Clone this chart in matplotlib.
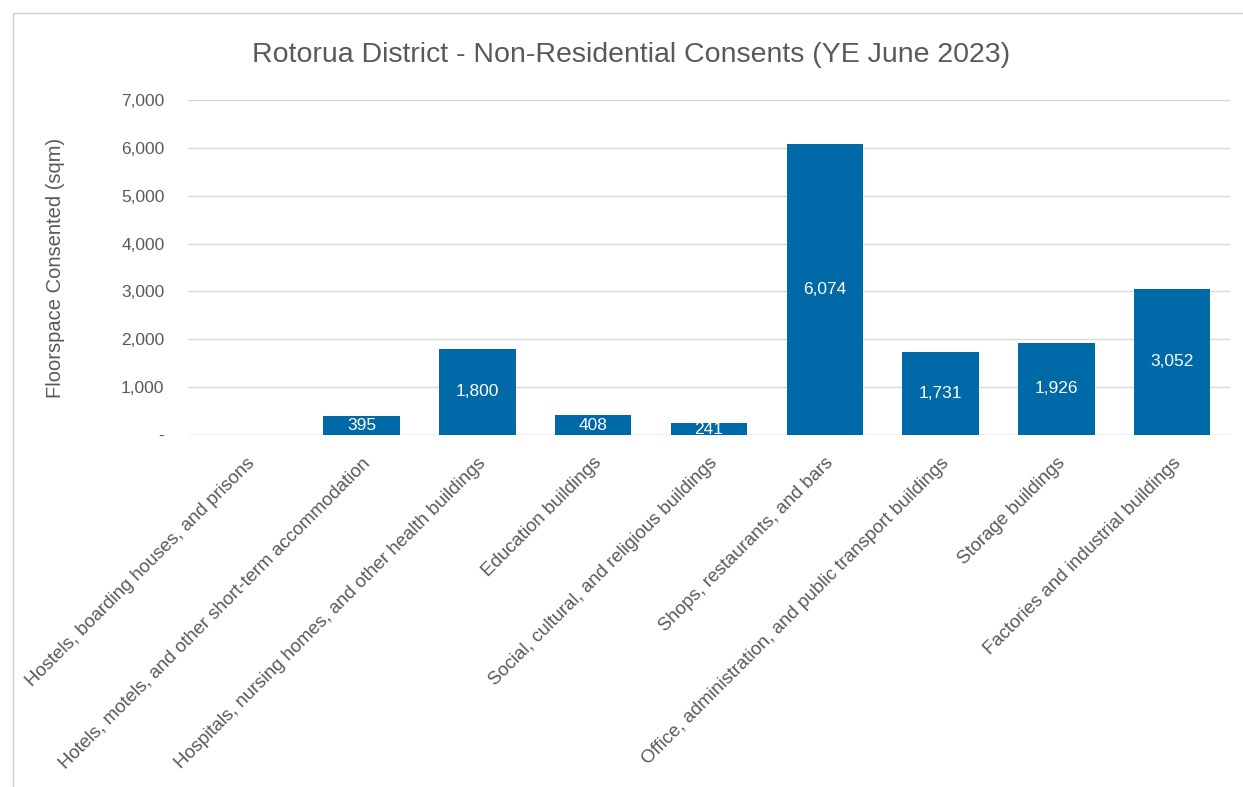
import matplotlib
matplotlib.use("Agg")
import matplotlib.pyplot as plt
from matplotlib.patches import Rectangle
from matplotlib.ticker import FuncFormatter

categories = [
    "Hostels, boarding houses, and prisons",
    "Hotels, motels, and other short-term accommodation",
    "Hospitals, nursing homes, and other health buildings",
    "Education buildings",
    "Social, cultural, and religious buildings",
    "Shops, restaurants, and bars",
    "Office, administration, and public transport buildings",
    "Storage buildings",
    "Factories and industrial buildings",
]
floorspace = [0, 395, 1800, 408, 241, 6074, 1731, 1926, 3052]
y_ticks = [0, 1000, 2000, 3000, 4000, 5000, 6000, 7000]

title = "Rotorua District - Non-Residential Consents (YE June 2023)"
y_label = "Floorspace Consented (sqm)"

bar_color = "#0069A8"
text_gray = "#595959"
grid_gray = "#D9D9D9"
font = "Liberation Sans"

W, H = 1243, 787
fig = plt.figure(figsize=(W / 100, H / 100), dpi=100)

# light frame around the chart area
fig.patches.append(Rectangle((13 / W, -0.02), 1.1, 1 - 13 / H + 0.02,
                             transform=fig.transFigure, fill=False,
                             edgecolor="#D0D0D0", linewidth=1.0))

ax = fig.add_axes([188 / W, 1 - 435 / H, (1230 - 188) / W, (435 - 100) / H])

x = list(range(len(categories)))
bars = ax.bar(x, floorspace, width=0.66, color=bar_color, zorder=3)

for b, v in zip(bars, floorspace):
    if v > 0:
        ax.text(b.get_x() + b.get_width() / 2, v / 2, f"{v:,}",
                ha="center", va="center", color="white", fontsize=12.5,
                family=font, zorder=4)

ax.set_xlim(-0.5, len(categories) - 0.5)
ax.set_ylim(0, 7000)
ax.set_yticks(y_ticks)
ax.yaxis.set_major_formatter(FuncFormatter(lambda v, p: "-" if v == 0 else f"{int(v):,}"))
ax.grid(axis="y", color=grid_gray, linewidth=1.0, zorder=0)
for s in ax.spines.values():
    s.set_visible(False)
ax.axhline(0, color=grid_gray, linewidth=1.0, zorder=2)

ax.tick_params(axis="both", length=0)
ax.tick_params(axis="y", pad=17, labelsize=12.5, labelcolor=text_gray)
for lab in ax.get_yticklabels():
    lab.set_family(font)

ax.set_xticks(x)
ax.set_xticklabels(categories, rotation=45, ha="right", rotation_mode="anchor",
                   fontsize=13.4, color=text_gray, family=font)
ax.tick_params(axis="x", pad=14)

ax.set_ylabel(y_label, fontsize=14.5, color=text_gray, family=font)
ax.yaxis.set_label_coords(-(188 - 65) / (1230 - 188), 0.5)

fig.text(631 / W, 1 - 62 / H, title, ha="center", va="baseline",
         fontsize=20.5, color=text_gray, family=font)

fig.savefig("out.png", dpi=100)
